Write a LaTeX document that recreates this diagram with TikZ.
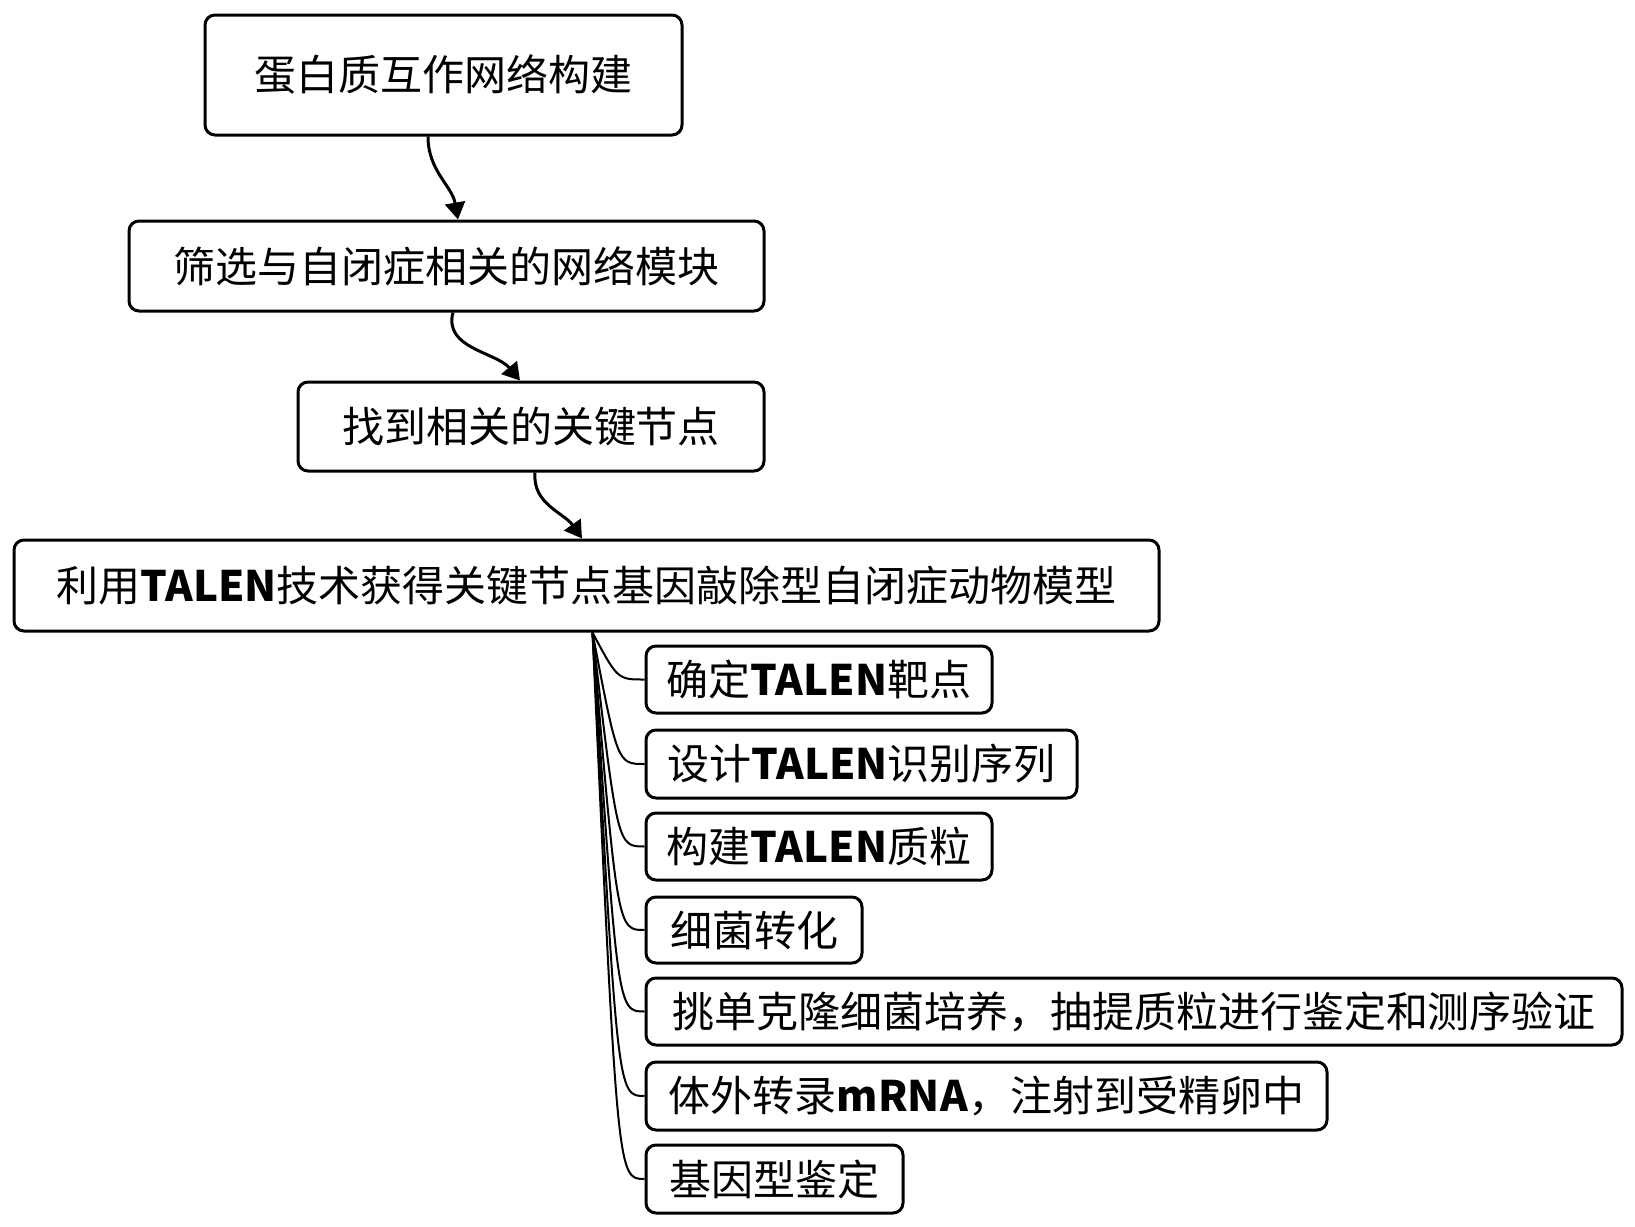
\documentclass[tikz,border=0pt]{standalone}
\usepackage{fontspec}
\setmainfont{Noto Sans CJK SC}
\usetikzlibrary{arrows.meta,calc}
\begin{document}
\begin{tikzpicture}[x=0.5pt,y=0.5pt,
  box/.style={draw, line width=1.5pt, rounded corners=5pt, inner sep=0pt, align=center,
    font=\fontsize{21pt}{25pt}\selectfont},
  arr/.style={line width=1.5pt, -{Triangle[width=10pt,length=8.5pt]}},
  br/.style={line width=1pt}]
\useasboundingbox (0,0) rectangle (1635,-1227);
% main chain
\node[box, minimum width=238.5pt, minimum height=60pt] (b1) at (443.5,-75) {蛋白质互作网络构建};
\node[box, minimum width=317.5pt, minimum height=45pt] (b2) at (446.5,-266) {筛选与自闭症相关的网络模块};
\node[box, minimum width=233pt, minimum height=44.5pt] (b3) at (531,-426.5) {找到相关的关键节点};
\node[box, minimum width=572.5pt, minimum height=45.5pt] (b4) at (586.5,-585.5) {利用\textbf{TALEN}技术获得关键节点基因敲除型自闭症动物模型};
% children
\node[box, minimum width=173pt, minimum height=33.5pt] (c1) at (819,-679.5) {确定\textbf{TALEN}靶点};
\node[box, minimum width=215.5pt, minimum height=34pt] (c2) at (861.5,-764) {设计\textbf{TALEN}识别序列};
\node[box, minimum width=173pt, minimum height=33.5pt] (c3) at (819,-846.5) {构建\textbf{TALEN}质粒};
\node[box, minimum width=108pt, minimum height=33pt] (c4) at (754,-930) {细菌转化};
\node[box, minimum width=488pt, minimum height=33.5pt] (c5) at (1134,-1011.5) {挑单克隆细菌培养，抽提质粒进行鉴定和测序验证};
\node[box, minimum width=340.5pt, minimum height=34pt] (c6) at (986.5,-1096) {体外转录\textbf{mRNA}，注射到受精卵中};
\node[box, minimum width=128.5pt, minimum height=34pt] (c7) at (774.5,-1179) {基因型鉴定};
% arrows
\draw[arr] ($(b1.south)+(-15.5,0)$) to[out=-90,in=100] ($(b2.north)+(11.5,0)$);
\draw[arr] ($(b2.south)+(6.5,0)$) to[out=-105,in=130] ($(b3.north)+(-11,0)$);
\draw[arr] ($(b3.south)+(4,0)$) to[out=-95,in=125] ($(b4.north)+(-4.5,0)$);
% branches
\coordinate (s) at ($(b4.south)+(6,0)$);
\coordinate (sv) at ($(s)+(25,0)$);
\foreach \c in {c1,c2,c3,c4,c5,c6,c7}
  \draw[br] (s) .. controls (sv |- \c.west) .. (\c.west);
\end{tikzpicture}
\end{document}
